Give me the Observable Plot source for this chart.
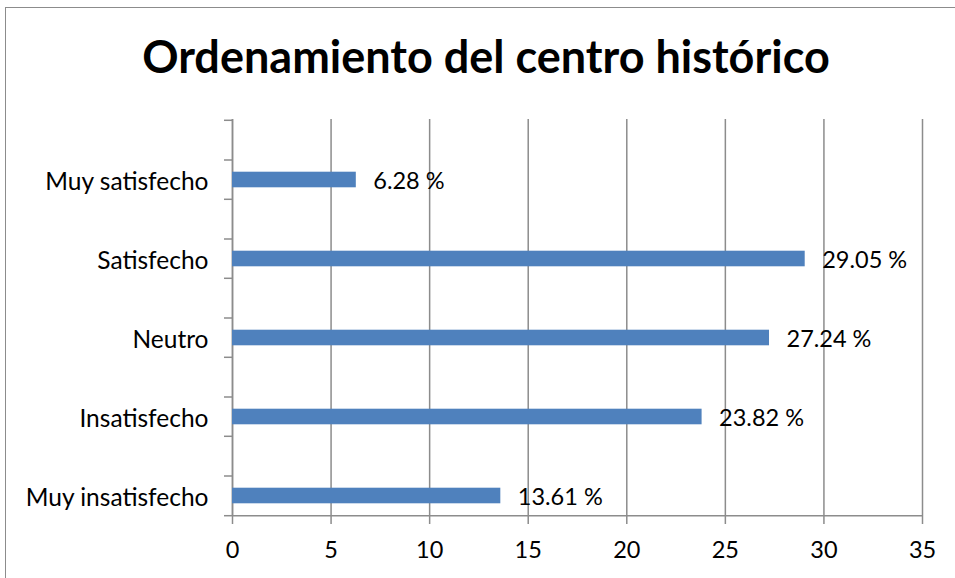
<!DOCTYPE html>
<html><head><meta charset="utf-8">
<script src="https://cdn.jsdelivr.net/npm/d3@7"></script>
<script src="https://cdn.jsdelivr.net/npm/@observablehq/plot@0.6"></script>
<style>
body{margin:0;overflow:hidden;background:#fff;width:955px;height:578px;position:relative;font-family:Lato,"Open Sans",sans-serif;}
#border{position:absolute;left:5px;top:7px;width:1000px;height:1000px;border-left:1.5px solid #8c8c8c;border-top:1.5px solid #8c8c8c;}
#title{position:absolute;left:0;top:0;width:972px;height:105px;display:flex;align-items:center;justify-content:center;font-weight:bold;font-size:45px;color:#000;padding-top:6px;box-sizing:border-box;}
#chart{position:absolute;left:0;top:105px;}
</style></head>
<body>
<div id="border"></div>
<div id="title">Ordenamiento del centro histórico</div>
<div id="chart"></div>
<script>
const categories = ["Muy satisfecho","Satisfecho","Neutro","Insatisfecho","Muy insatisfecho"];
const values = [6.28, 29.05, 27.24, 23.82, 13.61];
const labels = ["6.28 %","29.05 %","27.24 %","23.82 %","13.61 %"];
const xTicks = [0,5,10,15,20,25,30,35];

const data = categories.map((c,i)=>({cat:c, v:values[i], label:labels[i]}));
const W = 955, H = 473, mT = 14, mB = 62, mL = 232, mR = 33;
const bw = (H - mT - mB) / categories.length;
const half = bw / 2;
const grey = "#8c8c8c";
const fontSize = 23.5;

const plot = Plot.plot({
  width: W, height: H,
  marginTop: mT, marginBottom: mB, marginLeft: mL, marginRight: mR,
  style: {fontFamily: "Lato, 'Open Sans', sans-serif", fontSize: fontSize+"px", color:"#000", background:"transparent"},
  x: {domain: [0,35], ticks: xTicks},
  y: {domain: categories, padding: 0},
  marks: [
    Plot.gridX(xTicks, {stroke: grey, strokeOpacity: 1, strokeWidth: 1.5}),
    Plot.ruleX([0], {stroke: grey, strokeWidth: 1.5}),
    Plot.ruleY([categories[categories.length-1]], {stroke: grey, strokeWidth: 1.5, dy: half}),
    Plot.ruleY(categories, {x1: 0, x2: 0, insetLeft: -8, stroke: grey, strokeWidth: 1.5, dy: -half}),
    Plot.ruleY(categories, {x1: 0, x2: 0, insetLeft: -8, stroke: grey, strokeWidth: 1.5}),
    Plot.ruleY([categories[categories.length-1]], {x1: 0, x2: 0, insetLeft: -8, stroke: grey, strokeWidth: 1.5, dy: half}),
    Plot.barX(data, {x: "v", y: "cat", fill: "#4F81BD", insetTop: half + 12, insetBottom: half - 28}),
    Plot.text(data, {x: "v", y: "cat", text: "label", textAnchor: "start", dx: 17, dy: half/2 + 2, fill: "#000", fontSize: fontSize}),
    Plot.axisX({ticks: xTicks, tickSize: 8, stroke: grey, strokeWidth: 1.5, tickPadding: 17, label: null, fill:"#000", fontSize: fontSize}),
    Plot.axisY({tickSize: 0, tickPadding: 24, label: null, dy: half/2 + 2, fill:"#000", fontSize: 24.5})
  ]
});
document.getElementById("chart").appendChild(plot);
</script>
</body></html>
